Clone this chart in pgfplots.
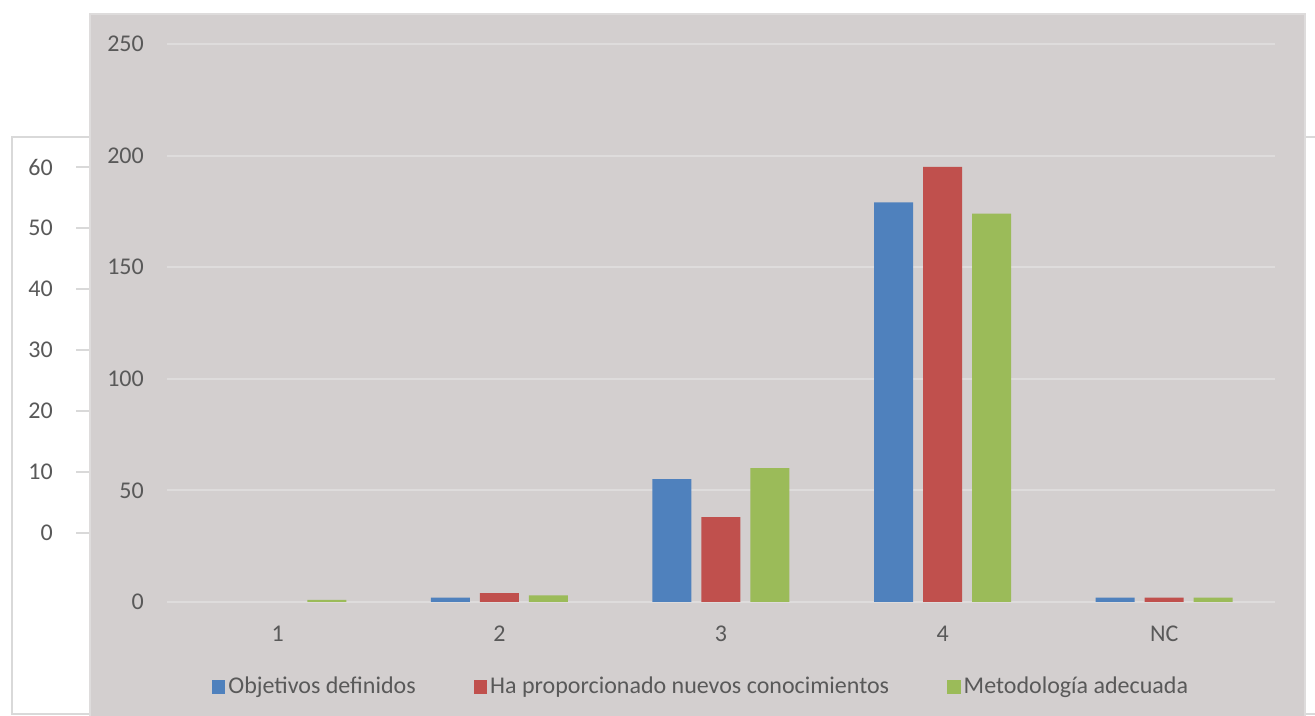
\documentclass[border=0pt]{standalone}
\usepackage{pgfplots}
\pgfplotsset{compat=1.18}
\usepackage{fontspec}
\setmainfont{Carlito}
\definecolor{panel}{RGB}{211,207,207}
\definecolor{panelborder}{RGB}{222,220,220}
\definecolor{whiteborder}{RGB}{217,217,217}
\definecolor{gridc}{RGB}{222,220,220}
\definecolor{txt}{RGB}{89,89,89}
\definecolor{cblue}{RGB}{79,129,189}
\definecolor{cred}{RGB}{192,80,77}
\definecolor{cgreen}{RGB}{155,187,89}
\begin{document}
\fontsize{24bp}{28bp}\selectfont
\begin{tikzpicture}
\useasboundingbox (0,0) rectangle (1315bp,716bp);
% back (white) chart
\draw[whiteborder, line width=1.5bp, fill=white] (12bp,2bp) rectangle (1330bp,579bp);
\begin{axis}[
  at={(76bp,183bp)}, anchor=south west,
  width=1200bp, height=366bp, scale only axis,
  xmin=0, xmax=1, ymin=0, ymax=60,
  ytick={0,10,...,60}, xtick=\empty,
  axis line style={draw=none},
  ymajorgrids, grid style={whiteborder, line width=1.5bp},
  major tick length=0pt,
  /pgf/number format/assume math mode=true,
  tick label style={font=\fontsize{24bp}{28bp}\selectfont, text=txt},
  yticklabel style={inner sep=0pt, xshift=-23bp},
]
\addplot[draw=none] coordinates {(0,0)};
\end{axis}
% front (grey) chart panel
\draw[panelborder, line width=1.5bp, fill=panel] (90bp,-10bp) rectangle (1305bp,702bp);
\begin{axis}[
  at={(167bp,114bp)}, anchor=south west,
  width=1108bp, height=558bp, scale only axis,
  xmin=-0.5, xmax=4.5, ymin=0, ymax=250,
  xtick={0,1,2,3,4}, xticklabels={1,2,3,4,NC},
  ytick={0,50,...,250},
  axis line style={draw=none},
  ymajorgrids, grid style={gridc, line width=2bp},
  major tick length=0pt,
  /pgf/number format/assume math mode=true,
  tick label style={font=\fontsize{24bp}{28bp}\selectfont, text=txt},
  yticklabel style={inner sep=0pt, xshift=-23bp},
  xticklabel style={inner sep=0pt, yshift=-24bp},
  ybar=10bp, bar width=39bp,
  legend columns=3,
  legend style={at={(0.4824,-0.1523)}, anchor=center, draw=none, fill=none,
    font=\fontsize{24bp}{28bp}\selectfont, text=txt,
    /tikz/every odd column/.append style={column sep=0bp},
    /tikz/every even column/.append style={column sep=55bp},
    nodes={inner sep=3bp}},
  legend image code/.code={\fill[#1] (0bp,-7bp) rectangle (13.5bp,6.5bp);},
]
\addplot[fill=cblue, draw=none] coordinates {(0,0) (1,2) (2,55) (3,179) (4,2)};
\addplot[fill=cred, draw=none] coordinates {(0,0) (1,4) (2,38) (3,195) (4,2)};
\addplot[fill=cgreen, draw=none] coordinates {(0,1) (1,3) (2,60) (3,174) (4,2)};
\legend{Objetivos definidos, Ha proporcionado nuevos conocimientos, Metodología adecuada}
\end{axis}
\end{tikzpicture}
\end{document}
